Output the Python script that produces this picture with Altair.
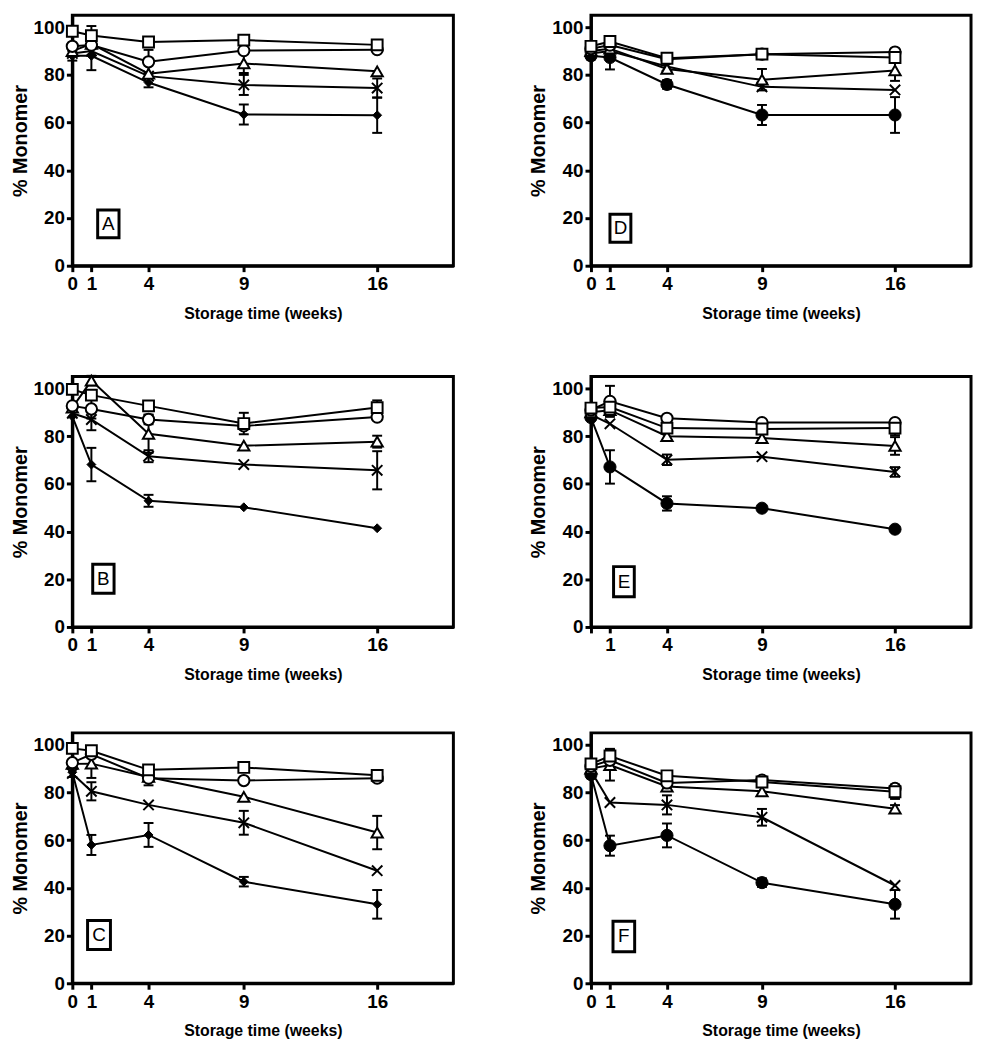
import altair as alt
import pandas as pd

weeks = [0, 1, 4, 9, 16]
series = ["filled", "cross", "triangle", "circle", "square"]

# Panel A
a_filled = [88.0, 88.0, 76.8, 63.4, 63.1]
a_filled_err = [2.0, 6.0, 2.0, 4.2, 7.4]
a_cross = [89.0, 90.0, 79.5, 75.8, 74.5]
a_cross_err = [0, 0, 0, 4.2, 4.0]
a_triangle = [90.0, 93.0, 80.5, 84.8, 81.5]
a_triangle_err = [0, 0, 0, 4.0, 0]
a_circle = [92.0, 92.5, 85.5, 90.2, 90.6]
a_circle_err = [0, 0, 5.0, 0, 0]
a_square = [98.3, 96.5, 93.8, 94.6, 92.6]
a_square_err = [0, 4.0, 0, 0, 0]

# Panel D
d_filled = [88.0, 87.3, 76.0, 63.2, 63.2]
d_filled_err = [1.5, 5.0, 1.8, 4.2, 7.5]
d_cross = [89.0, 90.0, 83.5, 75.0, 73.7]
d_cross_err = [0, 0, 0, 0, 0]
d_triangle = [90.0, 91.0, 82.5, 78.0, 81.9]
d_triangle_err = [0, 0, 0, 4.5, 4.4]
d_circle = [91.0, 92.5, 86.6, 88.7, 89.6]
d_circle_err = [0, 0, 0, 0, 0]
d_square = [92.0, 94.0, 87.0, 88.7, 87.3]
d_square_err = [0, 0, 0, 0, 0]

# Panel B
b_filled = [88.3, 68.1, 52.9, 50.2, 41.4]
b_filled_err = [0, 7.0, 2.5, 0, 0]
b_cross = [89.6, 87.0, 71.6, 68.1, 65.7]
b_cross_err = [0, 4.5, 2.5, 0, 8.0]
b_triangle = [92.0, 103.3, 81.0, 76.0, 77.7]
b_triangle_err = [0, 2.0, 8.0, 0, 2.5]
b_circle = [92.7, 91.4, 87.0, 84.3, 88.0]
b_circle_err = [0, 4.0, 2.0, 0, 0]
b_square = [99.6, 97.2, 92.7, 85.3, 92.0]
b_square_err = [0, 0, 0, 4.5, 3.0]

# Panel E
e_filled = [87.8, 67.1, 51.8, 49.8, 41.0]
e_filled_err = [1.0, 7.0, 3.0, 0, 0]
e_cross = [89.0, 85.2, 70.1, 71.4, 65.0]
e_cross_err = [0, 0, 2.2, 0, 2.0]
e_triangle = [90.0, 90.9, 80.0, 79.2, 75.9]
e_triangle_err = [0, 0, 0, 0, 3.7]
e_circle = [91.0, 94.6, 87.5, 85.7, 85.7]
e_circle_err = [0, 6.5, 0, 0, 0]
e_square = [91.8, 92.2, 83.4, 83.0, 83.4]
e_square_err = [0, 0, 0, 0, 3.0]

# Panel C
c_filled = [88.5, 58.0, 62.2, 42.6, 33.1]
c_filled_err = [2.0, 4.2, 5.0, 2.0, 6.0]
c_cross = [88.0, 80.5, 74.8, 67.3, 47.2]
c_cross_err = [0, 3.8, 0, 5.0, 0]
c_triangle = [92.0, 92.1, 86.5, 78.2, 63.2]
c_triangle_err = [0, 6.0, 0, 0, 7.0]
c_circle = [92.5, 96.0, 86.0, 85.0, 86.0]
c_circle_err = [0, 0, 3.0, 0, 0]
c_square = [98.5, 97.5, 89.5, 90.5, 87.2]
c_square_err = [0, 0, 0, 0, 0]

# Panel F
f_filled = [87.5, 57.7, 62.0, 42.2, 33.1]
f_filled_err = [1.5, 4.2, 5.0, 1.8, 6.0]
f_cross = [89.0, 75.8, 74.8, 69.6, 41.0]
f_cross_err = [0, 0, 4.0, 3.5, 0]
f_triangle = [90.0, 91.5, 82.5, 80.5, 73.2]
f_triangle_err = [0, 6.5, 0, 0, 1.5]
f_circle = [91.0, 93.5, 84.0, 85.2, 81.7]
f_circle_err = [0, 0, 0, 0, 0]
f_square = [92.0, 95.3, 87.0, 84.4, 80.3]
f_square_err = [0, 3.0, 0, 0, 3.0]

panels = {
    "A": ([a_filled, a_cross, a_triangle, a_circle, a_square],
          [a_filled_err, a_cross_err, a_triangle_err, a_circle_err, a_square_err]),
    "D": ([d_filled, d_cross, d_triangle, d_circle, d_square],
          [d_filled_err, d_cross_err, d_triangle_err, d_circle_err, d_square_err]),
    "B": ([b_filled, b_cross, b_triangle, b_circle, b_square],
          [b_filled_err, b_cross_err, b_triangle_err, b_circle_err, b_square_err]),
    "E": ([e_filled, e_cross, e_triangle, e_circle, e_square],
          [e_filled_err, e_cross_err, e_triangle_err, e_circle_err, e_square_err]),
    "C": ([c_filled, c_cross, c_triangle, c_circle, c_square],
          [c_filled_err, c_cross_err, c_triangle_err, c_circle_err, c_square_err]),
    "F": ([f_filled, f_cross, f_triangle, f_circle, f_square],
          [f_filled_err, f_cross_err, f_triangle_err, f_circle_err, f_square_err]),
}

# label box extents (data units) per panel
label_boxes = {
    "A": (1.33, 2.45, 11.7, 23.4),
    "D": (1.0, 2.1, 9.8, 21.6),
    "B": (1.07, 2.19, 14.1, 26.3),
    "E": (1.19, 2.28, 12.7, 25.3),
    "C": (0.8, 2.0, 14.2, 26.3),
    "F": (1.16, 2.3, 13.2, 26.0),
}

FONT = "Liberation Sans"
X_CROSS = "M-1,-1L1,1M-1,1L1,-1"


def make_panel(letter, width, height):
    vals, errs = panels[letter]
    rows = []
    for s, v_list, e_list in zip(series, vals, errs):
        for w, v, e in zip(weeks, v_list, e_list):
            rows.append({"series": s, "week": w, "value": v,
                         "lo": v - e, "hi": v + e, "has_err": e > 0})
    df = pd.DataFrame(rows)
    base = alt.Chart(df)

    xs = alt.Scale(domain=[0, 20], nice=False, zero=False)
    ys = alt.Scale(domain=[0, 105], nice=False)
    label_expr = "datum.value == 0 ? '' : datum.label" if letter == "E" else "datum.label"
    x_axis = alt.Axis(values=weeks, title="Storage time (weeks)", labelExpr=label_expr,
                      labelOverlap=False, labelFlush=False)
    y_axis = alt.Axis(values=[0, 20, 40, 60, 80, 100], title="% Monomer",
                      labelOverlap=False, labelFlush=False)
    X = alt.X("week:Q", scale=xs, axis=x_axis)
    Y = alt.Y("value:Q", scale=ys, axis=y_axis)

    lines = base.mark_line(color="black", strokeWidth=2).encode(x=X, y=Y, detail="series:N")
    eb_base = base.transform_filter("datum.has_err")
    rules = eb_base.mark_rule(color="black", strokeWidth=2).encode(
        x="week:Q", y="lo:Q", y2="hi:Q")
    cap_lo = eb_base.mark_tick(orient="horizontal", color="black", thickness=2,
                               size=10, opacity=1).encode(x="week:Q", y="lo:Q")
    cap_hi = eb_base.mark_tick(orient="horizontal", color="black", thickness=2,
                               size=10, opacity=1).encode(x="week:Q", y="hi:Q")

    filled_shape = "diamond" if letter in ("A", "B", "C") else "circle"
    filled_size = 80 if letter in ("A", "B", "C") else 150
    styles = {
        "filled": dict(shape=filled_shape, filled=True, fill="black", stroke="black",
                       strokeWidth=1, size=filled_size),
        "cross": dict(shape=X_CROSS, filled=False, stroke="black", strokeWidth=2, size=110),
        "triangle": dict(shape="triangle-up", filled=True, fill="white", stroke="black",
                         strokeWidth=2, size=130),
        "circle": dict(shape="circle", filled=True, fill="white", stroke="black",
                       strokeWidth=2, size=130),
        "square": dict(shape="square", filled=True, fill="white", stroke="black",
                       strokeWidth=2, size=120),
    }
    pts = []
    for s in ["filled", "cross", "triangle", "circle", "square"]:
        pts.append(base.transform_filter(alt.datum.series == s)
                   .mark_point(opacity=1, **styles[s])
                   .encode(x="week:Q", y="value:Q"))

    x1, x2, y1, y2 = label_boxes[letter]
    box_df = pd.DataFrame({"label": [letter]})
    box = alt.Chart(box_df).mark_rect(fill="white", stroke="black", strokeWidth=3).encode(
        x=alt.datum(x1), x2=alt.datum(x2), y=alt.datum(y1), y2=alt.datum(y2))
    txt = alt.Chart(box_df).mark_text(font=FONT, fontSize=19, color="black").encode(
        x=alt.datum((x1 + x2) / 2), y=alt.datum((y1 + y2) / 2), text="label:N")

    return alt.layer(lines, rules, cap_lo, cap_hi, *pts, box, txt).properties(
        width=width, height=height)


W_LEFT, W_RIGHT, H = 385, 384, 253
rows = []
for left, right in [("A", "D"), ("B", "E"), ("C", "F")]:
    rows.append(alt.hconcat(make_panel(left, W_LEFT, H), make_panel(right, W_RIGHT, H),
                            spacing=72))

chart = alt.vconcat(*rows, spacing=47).properties(
    padding={"left": 0, "top": 0, "right": 0, "bottom": 0}
).configure_view(
    stroke="black", strokeWidth=3
).configure_axis(
    domainColor="black", domainWidth=3, tickColor="black", tickWidth=3, tickSize=6,
    labelFont=FONT, labelFontWeight="bold", labelFontSize=19, labelColor="black",
    titleFont=FONT, titleFontWeight="bold", titleColor="black", grid=False,
).configure_axisX(
    labelPadding=3, titleFontSize=16, titlePadding=12,
).configure_axisY(
    labelPadding=2, titleFontSize=20, titlePadding=3,
)

chart.save("out.html", embed_options={"renderer": "svg", "actions": False})
